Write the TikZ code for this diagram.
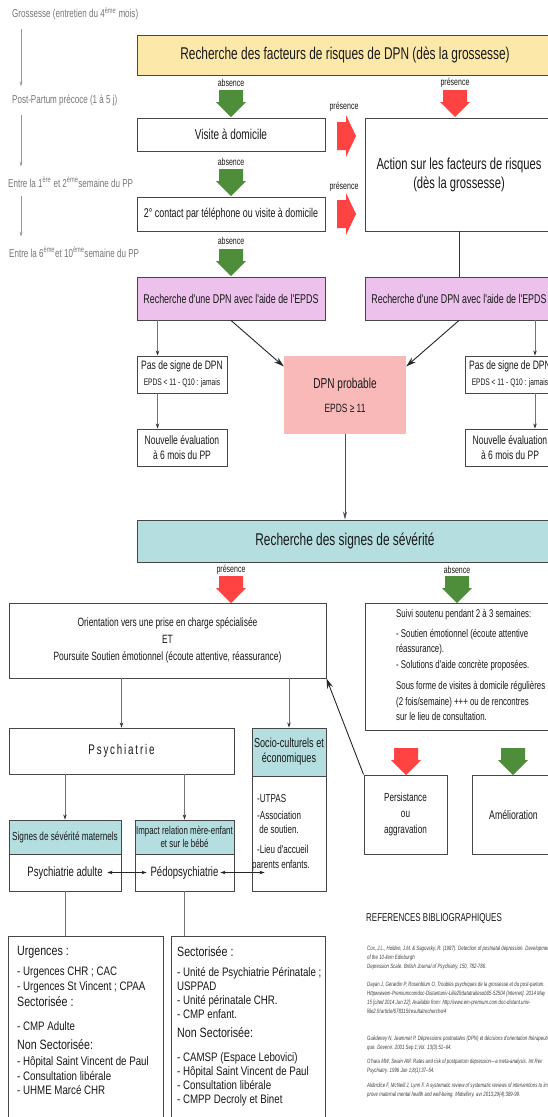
\documentclass[tikz,border=0pt]{standalone}
\usepackage{fontspec}
\setmainfont{Liberation Sans}
\newfontfamily\nar[FakeStretch=0.70]{Liberation Sans}
\newfontfamily\nspc[FakeStretch=0.70,LetterSpace=13]{Liberation Sans}
\newfontfamily\lst[FakeStretch=0.79]{Liberation Sans}
\usetikzlibrary{arrows.meta,calc}
\definecolor{yelF}{RGB}{252,232,168}
\definecolor{pinkF}{RGB}{236,193,236}
\definecolor{salF}{RGB}{249,185,185}
\definecolor{tealF}{RGB}{180,222,223}
\definecolor{grnA}{RGB}{78,142,58}
\definecolor{redA}{RGB}{255,66,66}
\definecolor{bordc}{RGB}{70,70,70}
\definecolor{txtc}{RGB}{25,25,25}
\definecolor{timeg}{RGB}{120,120,120}
\newcommand\blkdn[3]{\fill[#3] ({#1-12},{#2}) -- ({#1+12},{#2}) -- ({#1+12},{#2+12}) -- ({#1+15},{#2+12}) -- ({#1},{#2+27}) -- ({#1-15},{#2+12}) -- ({#1-12},{#2+12}) -- cycle;}
\newcommand\blkrt[3]{\fill[#3] ({#1},{#2-14}) -- ({#1+9},{#2-14}) -- ({#1+9},{#2-21}) -- ({#1+19},{#2}) -- ({#1+9},{#2+21}) -- ({#1+9},{#2+14}) -- ({#1},{#2+14}) -- cycle;}
\tikzset{
  bx/.style={draw=bordc, line width=0.9pt, inner sep=1pt, align=center, text=txtc},
  lab/.style={inner sep=0pt, text=txtc, font=\nar\fontsize{10}{11}\selectfont},
  tlab/.style={inner sep=0pt, anchor=west, text=timeg, font=\nar\fontsize{11.5}{13}\selectfont},
  tarr/.style={draw=black!40, line width=0.6pt, -{Stealth[length=5pt,width=3pt]}},
  garr/.style={draw=black!55, line width=0.8pt, -{Stealth[length=5pt,width=3.5pt,color=black!80]}},
  gline/.style={draw=black!55, line width=0.8pt},
  barr/.style={draw=black!85, line width=0.9pt, -{Stealth[length=10pt,width=6pt]}},
  darr/.style={draw=black!85, line width=0.7pt, {Stealth[length=5pt,width=3.5pt]}-{Stealth[length=5pt,width=3.5pt]}},
}
\begin{document}
\begin{tikzpicture}[x=1pt,y=-1pt]
\clip (0,0) rectangle (548,1117);
\fill[white] (0,0) rectangle (548,1117);

% timeline
\node[tlab] (t1) at (12,14) {Grossesse (entretien du 4\textsuperscript{ème} mois)};
\node[tlab] (t2) at (12,100) {Post-Partum précoce (1 à 5 j)};
\node[tlab] (t3) at (8,182) {Entre la 1\textsuperscript{ère} et 2\textsuperscript{ème}semaine du PP};
\node[tlab] (t4) at (9,252) {Entre la 6\textsuperscript{ème}et 10\textsuperscript{ème}semaine du PP};
\coordinate (tx) at (21,0);
\draw[tarr, shorten <=8pt, shorten >=8pt] (t1.south -| tx) -- (t2.north -| tx);
\draw[tarr, shorten <=9pt, shorten >=10pt] (t2.south -| tx) -- (t3.north -| tx);
\draw[tarr, shorten <=9pt, shorten >=10pt] (t3.south -| tx) -- (t4.north -| tx);

% top part
\node[bx, fill=yelF, minimum width=416pt, minimum height=40pt, font=\nar\fontsize{17}{19}\selectfont] (risk) at (345,55) {Recherche des facteurs de risques de DPN (dès la grossesse)};
\node[bx, minimum width=188pt, minimum height=33pt, font=\nar\fontsize{14.3}{16}\selectfont] (visite) at (231,134.5) {Visite à domicile};
\node[bx, minimum width=188pt, minimum height=34pt, font=\nar\fontsize{12.7}{14}\selectfont] (contact) at (231,214) {2° contact par téléphone ou visite à domicile};
\node[bx, minimum width=188pt, minimum height=113pt, font=\nar\fontsize{16}{19}\selectfont] (action) at (459,174.5) {Action sur les facteurs de risques\\(dès la grossesse)};

\node[lab] (la1) at (231,83) {absence};
\blkdn{231}{90}{grnA}
\node[lab] (lp1) at (455,83) {présence};
\blkdn{455}{90}{redA}
\node[lab] (lp2) at (344,107) {présence};
\blkrt{337}{136}{redA}
\node[lab] (la2) at (231,162) {absence};
\blkdn{231}{169}{grnA}
\node[lab] (lp3) at (344,187) {présence};
\blkrt{337}{214}{redA}
\node[lab] (la3) at (231,241) {absence};
\blkdn{231}{249}{grnA}

% EPDS
\node[bx, fill=pinkF, minimum width=188pt, minimum height=43pt, font=\nar\fontsize{12.7}{14}\selectfont] (pinkL) at (231,298.5) {Recherche d'une DPN avec l'aide de l'EPDS};
\node[bx, fill=pinkF, minimum width=188pt, minimum height=43pt, font=\nar\fontsize{12.7}{14}\selectfont] (pinkR) at (459,298.5) {Recherche d'une DPN avec l'aide de l'EPDS};
\draw[gline, draw=black!80] (action.south) -- (pinkR.north);

\node[bx, minimum width=90pt, minimum height=37pt, font=\nar\fontsize{12.2}{16}\selectfont] (pasL) at (182,374.5) {Pas de signe de DPN\\{\fontsize{9.5}{10}\selectfont EPDS < 11 - Q10 : jamais}};
\node[bx, minimum width=90pt, minimum height=37pt, font=\nar\fontsize{12.2}{15}\selectfont] (nouvL) at (182,447.5) {Nouvelle évaluation\\à 6 mois du PP};
\node[bx, minimum width=90pt, minimum height=37pt, font=\nar\fontsize{12.2}{16}\selectfont] (pasR) at (510,374.5) {Pas de signe de DPN\\{\fontsize{9.5}{10}\selectfont EPDS < 11 - Q10 : jamais}};
\node[bx, minimum width=90pt, minimum height=37pt, font=\nar\fontsize{12.2}{15}\selectfont] (nouvR) at (510,447.5) {Nouvelle évaluation\\à 6 mois du PP};
\node[fill=salF, minimum width=122pt, minimum height=78pt, align=center, text=txtc, font=\nar\fontsize{14.4}{24}\selectfont] (dpn) at (345,395) {DPN probable\\{\fontsize{12}{13}\selectfont EPDS ≥ 11}};

\coordinate (gl1) at ([xshift=21pt]pasL.north west);
\draw[garr] (pinkL.south -| gl1) -- (gl1);
\coordinate (gl2) at ([xshift=21pt]nouvL.north west);
\draw[garr] (gl2 |- pasL.south) -- (gl2);
\coordinate (gr1) at ([xshift=25pt]pasR.north);
\draw[garr] (pinkR.south -| gr1) -- (gr1);
\coordinate (gr2) at ([xshift=25pt]nouvR.north);
\draw[garr] (gr2 |- pasR.south) -- (gr2);
\draw[barr] (pinkL.south) -- (dpn.155);
\draw[barr] (pinkR.south) -- (dpn.25);

% severity
\node[bx, fill=tealF, minimum width=416pt, minimum height=42pt, font=\nar\fontsize{17}{19}\selectfont] (sev) at (345,541) {Recherche des signes de sévérité};
\draw[garr, draw=black!70, -{Stealth[length=8pt,width=4pt]}] (dpn.south) -- (dpn.south |- sev.north);

\node[lab] (lp4) at (231,570) {présence};
\blkdn{231}{576}{redA}
\node[lab] (la4) at (457,570) {absence};
\blkdn{457}{576}{grnA}

\node[bx, minimum width=317pt, minimum height=75pt, font=\nar\fontsize{12}{17}\selectfont] (orient) at (167.5,640.5) {Orientation vers une prise en charge spécialisée\\ET\\Poursuite Soutien émotionnel (écoute attentive, réassurance)};
\node[bx, minimum width=188pt, minimum height=127pt] (suivi) at (459,666.5) {};
\node[anchor=north west, align=left, inner sep=0pt, text=txtc, font=\nar\fontsize{11.2}{14.5}\selectfont] (suivit) at (396,609) {Suivi soutenu pendant 2 à 3 semaines:\\[6pt]- Soutien émotionnel (écoute attentive\\réassurance).\\[2pt]- Solutions d'aide concrète proposées.\\[6pt]Sous forme de visites à domicile régulières\\[2pt](2 fois/semaine) +++ ou de rencontres\\sur le lieu de consultation.};

% psychiatry
\node[bx, minimum width=225pt, minimum height=46pt, font=\nspc\fontsize{14}{16}\selectfont] (psy) at (121.5,751) {Psychiatrie};
\node[bx, fill=tealF, minimum width=74pt, minimum height=48pt, font=\nar\fontsize{13}{15}\selectfont] (socH) at (289,752) {Socio-culturels et\\économiques};
\node[bx, minimum width=74pt, minimum height=115pt] (socB) at (289,833.5) {};
\node[anchor=north west, align=left, inner sep=0pt, text=txtc, font=\nar\fontsize{11.5}{14}\selectfont] (soct) at (257,794) {-UTPAS\\[3pt]-Association\\\ de soutien.\\[6pt]-Lieu d'accueil\\[1pt]\hspace*{-5pt}parents enfants.};
\draw[garr] (orient.south -| psy.north) -- (psy.north);
\draw[garr] (orient.south -| socH.north) -- (socH.north);

\node[bx, fill=tealF, minimum width=112pt, minimum height=34pt, font=\nar\fontsize{11.7}{13}\selectfont] (sigH) at (65,837) {Signes de sévérité maternels};
\node[bx, minimum width=112pt, minimum height=37pt, font=\nar\fontsize{13.6}{15}\selectfont] (sigB) at (65,872.5) {Psychiatrie adulte};
\node[bx, fill=tealF, minimum width=99pt, minimum height=34pt, inner sep=0pt, font=\nar\fontsize{11.3}{12.5}\selectfont] (impH) at (184.5,837) {Impact relation mère-enfant\\et sur le bébé};
\node[bx, minimum width=99pt, minimum height=37pt, font=\nar\fontsize{13.6}{15}\selectfont] (impB) at (184.5,872.5) {Pédopsychiatrie};
\draw[garr] (psy.south -| sigH.north) -- (sigH.north);
\draw[garr] (psy.south -| impH.north) -- (impH.north);
\draw[darr] ([xshift=-14pt]sigB.east) -- ([xshift=12pt]impB.west);
\coordinate (sx) at (impB.east -| socB.west);
\draw[darr] ([xshift=-14pt]impB.east) -- ([xshift=13pt]sx);

% outcome
\blkdn{406}{748}{redA}
\blkdn{513}{748}{grnA}
\node[bx, minimum width=83pt, minimum height=79pt, font=\nar\fontsize{11.7}{16}\selectfont] (pers) at (405.5,814.5) {Persistance\\ou\\aggravation};
\node[bx, minimum width=83pt, minimum height=79pt, font=\nar\fontsize{12.5}{14}\selectfont] (amel) at (513.5,814.5) {Amélioration};
\draw[barr] (pers.north west) -- (orient.south east);

% lists
\node[bx, minimum width=155pt, minimum height=204pt] (listL) at (85.5,1038) {};
\node[bx, minimum width=154pt, minimum height=204pt] (listR) at (248,1038) {};
\draw[gline] (sigB.south) -- (sigB.south |- listL.north);
\draw[gline] (impB.south) -- (impB.south |- listR.north);
\node[anchor=north west, align=left, inner sep=0pt, text=txtc, font=\lst\fontsize{12.3}{14.5}\selectfont] (listLt) at (17,946) {{\fontsize{13.5}{14.5}\selectfont Urgences :}\\[5.5pt]- Urgences CHR ; CAC\\[0.5pt]- Urgences St Vincent ; CPAA\\[1.5pt]{\fontsize{13.5}{14.5}\selectfont Sectorisée :}\\[9.5pt]- CMP Adulte\\[4.5pt]{\fontsize{13.5}{14.5}\selectfont Non Sectorisée:}\\[1.5pt]- Hôpital Saint Vincent de Paul\\- Consultation libérale\\- UHME Marcé CHR};
\node[anchor=north west, align=left, inner sep=0pt, text=txtc, font=\lst\fontsize{12.3}{14}\selectfont] (listRt) at (177,946) {{\fontsize{13.5}{14}\selectfont Sectorisée :}\\[6pt]- Unité de Psychiatrie Périnatale ;\\USPPAD\\- Unité périnatale CHR.\\- CMP enfant.\\[5pt]{\fontsize{13.5}{14}\selectfont Non Sectorisée:}\\[10pt]- CAMSP (Espace Lebovici)\\- Hôpital Saint Vincent de Paul\\- Consultation libérale\\- CMPP Decroly et Binet};

% references
\node[anchor=west, inner sep=0pt, text=txtc, font=\nar\fontsize{11.4}{13}\selectfont] (refh) at (366,919) {REFERENCES BIBLIOGRAPHIQUES};
\node[anchor=north west, align=left, inner sep=0pt, text=black!75, font=\nar\itshape\fontsize{6.2}{9}\selectfont] (refs) at (367,946) {Cox, J.L., Holden, J.M. \& Sagovsky, R. (1987). Detection of postnatal depression. Development\\of the 10-item Edinburgh\\Depression Scale. British Journal of Psychiatry, 150, 782-786.\\[9pt]Dayan J, Gerardin P, Rosenblum O. Troubles psychiques de la grossesse et du post-partum.\\Httpwwwem-Premiumcomdoc-Distantuniv-Lille2frdatatraitesob05-52504 [Internet]. 2014 May\\15 [cited 2014 Jun 22]; Available from: http://www.em-premium.com.doc-distant.univ-\\lille2.fr/article/678315/resultatrecherche/4\\[18pt]Guédeney N, Jeammet P. Dépressions postnatales (DPN) et décisions d'orientation thérapeuti-\\que. Devenir. 2001 Sep 1;Vol. 13(3):51–64.\\[5pt]O'hara MW, Swain AM. Rates and risk of postpartum depression—a meta-analysis. Int Rev\\Psychiatry. 1996 Jan 1;8(1):37–54.\\[6pt]Alderdice F, McNeill J, Lynn F. A systematic review of systematic reviews of interventions to im-\\prove maternal mental health and well-being. Midwifery. avr 2013;29(4):389-99.};
\end{tikzpicture}
\end{document}
